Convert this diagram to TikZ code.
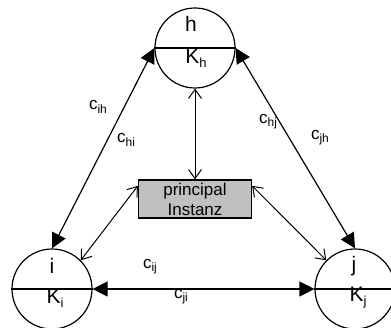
\documentclass[tikz,border=0pt]{standalone}
\usepackage{fontspec}
\setmainfont{Liberation Sans}
\usetikzlibrary{arrows.meta}
\definecolor{boxgray}{HTML}{C0C0C0}
\newcommand{\lowidx}[2]{\raisebox{-0.35ex}{\fontsize{#1}{#1}\selectfont #2}}
\newcommand{\cost}[1]{c\lowidx{12}{#1}}

\begin{document}
\begin{tikzpicture}[x=1pt,y=-1pt,
   party/.style={draw,circle,line width=1.2pt,minimum size=80pt,inner sep=0pt},
   tag/.style={font=\fontsize{21}{21}\selectfont,inner sep=0pt},
   lbl/.style={font=\fontsize{17}{17}\selectfont,inner sep=0pt},
   both/.style={{Triangle[length=15pt,width=15pt]}-{Triangle[length=15pt,width=15pt]},line width=1.2pt},
   link/.style={{Straight Barb[length=9pt,width=13pt]}-{Straight Barb[length=9pt,width=13pt]},line width=1pt}]
  \useasboundingbox (0,0) rectangle (391,328);
  \node[party] (h) at (195,48) {};
  \node[party] (i) at (52,289) {};
  \node[party] (j) at (355,289) {};
  \draw[line width=1.2pt] (h.west) -- (h.east);
  \draw[line width=1.2pt] (i.west) -- (i.east);
  \draw[line width=1.2pt] (j.west) -- (j.east);
  \node[tag] (hname) at (191,24) {h};
  \node[tag] (iname) at (52,266) {i};
  \node[tag] (jname) at (354,266) {j};
  \node[tag] (hkey) at (196,58) {K\lowidx{13}{h}};
  \node[tag] (ikey) at (55,298) {K\lowidx{13}{i}};
  \node[tag] (jkey) at (358,298) {K\lowidx{13}{j}};
  \node[draw,fill=boxgray,line width=1.2pt,minimum width=113pt,minimum height=38pt,
     align=center,inner sep=1pt,font=\fontsize{17}{20}\selectfont] (inst) at (195,199)
     {principal\\Instanz};
  \draw[both] (h.west) -- (i.north);
  \draw[both] (h.east) -- (j.north);
  \draw[both] (i.east) -- (j.west);
  \draw[link] (inst.north) -- (h.south);
  \draw[link] (inst.167) -- (i.45);
  \draw[link] (inst.13) -- (j.135);
  \node[lbl] (cih) at (98,107) {\cost{ih}};
  \node[lbl] (chi) at (126,140) {\cost{hi}};
  \node[lbl] (chj) at (268,122) {\cost{hj}};
  \node[lbl] (cjh) at (320,138) {\cost{jh}};
  \node[lbl] (cij) at (150,267) {\cost{ij}};
  \node[lbl] (cji) at (181,297) {\cost{ji}};
\end{tikzpicture}
\end{document}
